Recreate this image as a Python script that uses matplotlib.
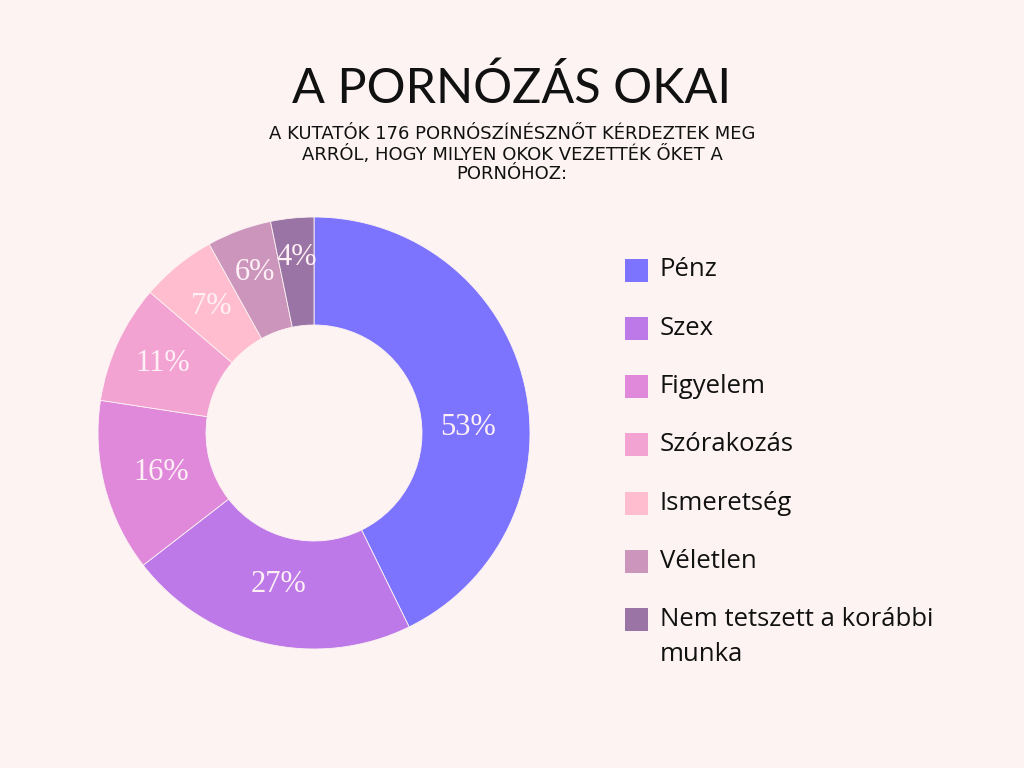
import matplotlib
matplotlib.use('Agg')
import matplotlib.pyplot as plt
from matplotlib.patches import Rectangle
import numpy as np

categories = ['Pénz', 'Szex', 'Figyelem', 'Szórakozás', 'Ismeretség', 'Véletlen',
              'Nem tetszett a korábbi\nmunka']
values = [53, 27, 16, 11, 7, 6, 4]
colors = ['#7C74FE', '#BD79E8', '#E089DB', '#F3A3D2', '#FFBDCF', '#CC95BC', '#9A74A4']

bg = '#FDF3F3'

fig = plt.figure(figsize=(10.24, 7.68), dpi=100, facecolor=bg)

# donut axes: centre (314, 433) px, radius 216 px
ax = fig.add_axes([98 / 1024, 119 / 768, 432 / 1024, 432 / 768])
ax.set_facecolor(bg)
wedges, _ = ax.pie(values, colors=colors, startangle=90, counterclock=False,
                   radius=1, wedgeprops=dict(width=0.5, edgecolor=bg, linewidth=0.6))
ax.set_xlim(-1, 1)
ax.set_ylim(-1, 1)
ax.set_aspect('equal')
ax.axis('off')

# label radius per wedge (small ones sit a bit further out), plus a nudge for the big one
label_r = [0.73, 0.72, 0.73, 0.77, 0.755, 0.79, 0.815]
label_dy = [-0.14, 0, 0, 0, 0, 0, 0]
for w, v, r, dy in zip(wedges, values, label_r, label_dy):
    mid = np.deg2rad((w.theta1 + w.theta2) / 2)
    ax.text(r * np.cos(mid), r * np.sin(mid) + dy, f'{v}%', ha='center', va='center',
            color='#FFF0F6', fontsize=22, family='Liberation Serif')

fig.text(0.5, 1 - 88 / 768, 'A PORNÓZÁS OKAI', ha='center', va='center',
         fontsize=35, family='Lato', color='#111111')
fig.text(0.5, 1 - 154 / 768,
         'A KUTATÓK 176 PORNÓSZÍNÉSZNŐT KÉRDEZTEK MEG\nARRÓL, HOGY MILYEN OKOK VEZETTÉK ŐKET A\nPORNÓHOZ:',
         ha='center', va='center', fontsize=13, family='DejaVu Sans', color='#111111',
         linespacing=1.1)

# legend, drawn by hand so the square lines up with the first text line
for i, (lab, c) in enumerate(zip(categories, colors)):
    yc = 1 - (270 + i * 58.3) / 768
    fig.patches.append(Rectangle((625 / 1024, yc - 11.5 / 768), 23 / 1024, 23 / 768,
                                 transform=fig.transFigure, facecolor=c, edgecolor='none'))
    lines = lab.split('\n')
    for j, ln in enumerate(lines):
        fig.text(660 / 1024, yc - j * 35 / 768, ln, ha='left', va='center',
                 fontsize=18.5, family='Open Sans', color='#111111')

fig.savefig('out.png', dpi=100, facecolor=bg)
